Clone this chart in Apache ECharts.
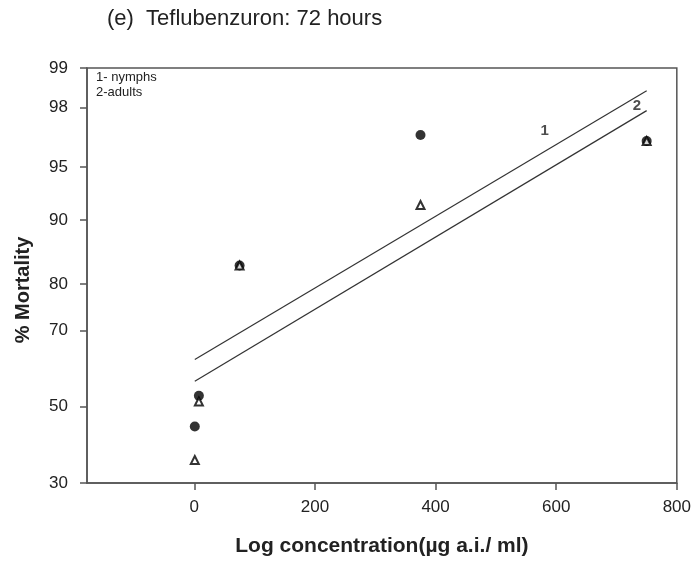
<!DOCTYPE html>
<html>
<head>
<meta charset="utf-8">
<script src="https://cdn.jsdelivr.net/npm/echarts@6/dist/echarts.min.js"></script>
<style>
  html, body { margin: 0; padding: 0; background: #fff; }
  #chart { width: 694px; height: 562px; }
</style>
</head>
<body>
<div id="chart"></div>
<script>
  // concentrations (µg a.i./ml) and % mortality
  var conc = [0.75, 7.5, 75, 375, 750]
  var nymphs = [44.6, 53, 83.4, 96.9, 96.6]
  var adults = [35.7, 51.4, 83.4, 91.7, 96.6]

  // fitted probit lines, end points [conc, % mortality]
  var line1 = [[0.75, 62.7], [750, 98.5]]
  var line2 = [[0.75, 56.9], [750, 97.9]]

  // where the line numbers sit [conc, % mortality]
  var lineTags = [[581, 97.1, '1'], [734, 98.05, '2']]

  var yTicks = [30, 50, 70, 80, 90, 95, 98, 99]
  var xTicks = [0, 200, 400, 600, 800]

  // inverse normal cdf (Acklam)
  function probit(pct) {
    var p = pct / 100
    var a = [-3.969683028665376e+01, 2.209460984245205e+02, -2.759285104469687e+02, 1.383577518672690e+02, -3.066479806614716e+01, 2.506628277459239e+00]
    var b = [-5.447609879822406e+01, 1.615858368580409e+02, -1.556989798598866e+02, 6.680131188771972e+01, -1.328068155288572e+01]
    var c = [-7.784894002430293e-03, -3.223964580411365e-01, -2.400758277161838e+00, -2.549732539343734e+00, 4.374664141464968e+00, 2.938163982698783e+00]
    var d = [7.784695709041462e-03, 3.224671290700398e-01, 2.445134137142996e+00, 3.754408661907416e+00]
    var pl = 0.02425, q, r
    if (p < pl) {
      q = Math.sqrt(-2 * Math.log(p))
      return (((((c[0]*q+c[1])*q+c[2])*q+c[3])*q+c[4])*q+c[5]) / ((((d[0]*q+d[1])*q+d[2])*q+d[3])*q+1)
    }
    if (p > 1 - pl) {
      q = Math.sqrt(-2 * Math.log(1 - p))
      return -(((((c[0]*q+c[1])*q+c[2])*q+c[3])*q+c[4])*q+c[5]) / ((((d[0]*q+d[1])*q+d[2])*q+d[3])*q+1)
    }
    q = p - 0.5
    r = q * q
    return (((((a[0]*r+a[1])*r+a[2])*r+a[3])*r+a[4])*r+a[5])*q / (((((b[0]*r+b[1])*r+b[2])*r+b[3])*r+b[4])*r+1)
  }

  var yTickVals = yTicks.map(probit)
  function pts(xs, ys) {
    return xs.map(function (x, i) { return [x, probit(ys[i])] })
  }
  function linePts(arr) {
    return arr.map(function (d) { return [d[0], probit(d[1])] })
  }

  var font = '"Liberation Sans", Arial, sans-serif'
  var chart = echarts.init(document.getElementById('chart'))

  chart.setOption({
    backgroundColor: '#fff',
    animation: false,
    textStyle: { fontFamily: font },
    grid: {
      left: 87, right: 16, top: 68, bottom: 78,
      show: true,
      borderColor: '#555',
      borderWidth: 1.5
    },
    graphic: [
      {
        type: 'text', left: 107, top: 8,
        style: { text: '(e)  Teflubenzuron: 72 hours', font: '22px ' + font, fill: '#222' }
      },
      {
        type: 'text', left: 96, top: 70,
        style: { text: '1- nymphs\n2-adults', font: '13px ' + font, fill: '#222', lineHeight: 15 }
      },
      {
        type: 'text', x: 23, y: 290, rotation: Math.PI / 2,
        style: { text: '% Mortality', font: 'bold 20px ' + font, fill: '#222', align: 'center', verticalAlign: 'middle' }
      }
    ],
    xAxis: {
      type: 'value',
      min: -178,
      max: 800,
      name: 'Log concentration(µg a.i./ ml)',
      nameLocation: 'middle',
      nameGap: 53,
      nameTextStyle: { fontSize: 21, fontWeight: 'bold', color: '#222' },
      axisLine: { show: true, onZero: false, lineStyle: { color: '#555', width: 1.5 } },
      axisTick: { show: true, length: 7, customValues: xTicks, lineStyle: { color: '#555', width: 1.5 } },
      axisLabel: { customValues: xTicks, fontSize: 17, color: '#222', margin: 16 },
      splitLine: { show: false }
    },
    yAxis: {
      type: 'value',
      min: probit(30),
      max: probit(99),
      axisLine: { show: true, onZero: false, lineStyle: { color: '#555', width: 1.5 } },
      axisTick: { show: true, length: 7, customValues: yTickVals, lineStyle: { color: '#555', width: 1.5 } },
      axisLabel: {
        customValues: yTickVals,
        fontSize: 17,
        color: '#222',
        margin: 19,
        formatter: function (v) {
          var best = 0
          yTickVals.forEach(function (t, i) {
            if (Math.abs(t - v) < Math.abs(yTickVals[best] - v)) best = i
          })
          return String(yTicks[best])
        }
      },
      splitLine: { show: false }
    },
    series: [
      {
        name: 'line1',
        type: 'line',
        data: linePts(line1),
        symbol: 'none',
        lineStyle: { color: '#333', width: 1.2 },
        z: 2
      },
      {
        name: 'line2',
        type: 'line',
        data: linePts(line2),
        symbol: 'none',
        lineStyle: { color: '#333', width: 1.2 },
        z: 2
      },
      {
        name: 'tags',
        type: 'scatter',
        data: lineTags.map(function (t) { return { value: [t[0], probit(t[1])], name: t[2] } }),
        symbolSize: 1,
        itemStyle: { color: 'rgba(0,0,0,0)' },
        label: { show: true, position: 'inside', formatter: '{b}', fontSize: 15, fontWeight: 'bold', color: '#222' },
        z: 5
      },
      {
        name: 'nymphs',
        type: 'scatter',
        data: pts(conc, nymphs),
        symbol: 'circle',
        symbolSize: 10,
        itemStyle: { color: '#000' },
        z: 3
      },
      {
        name: 'adults',
        type: 'scatter',
        data: pts(conc, adults),
        symbol: 'triangle',
        symbolSize: 8,
        itemStyle: { color: '#fff', borderColor: '#000', borderWidth: 2 },
        z: 4
      }
    ]
  })
</script>
</body>
</html>
